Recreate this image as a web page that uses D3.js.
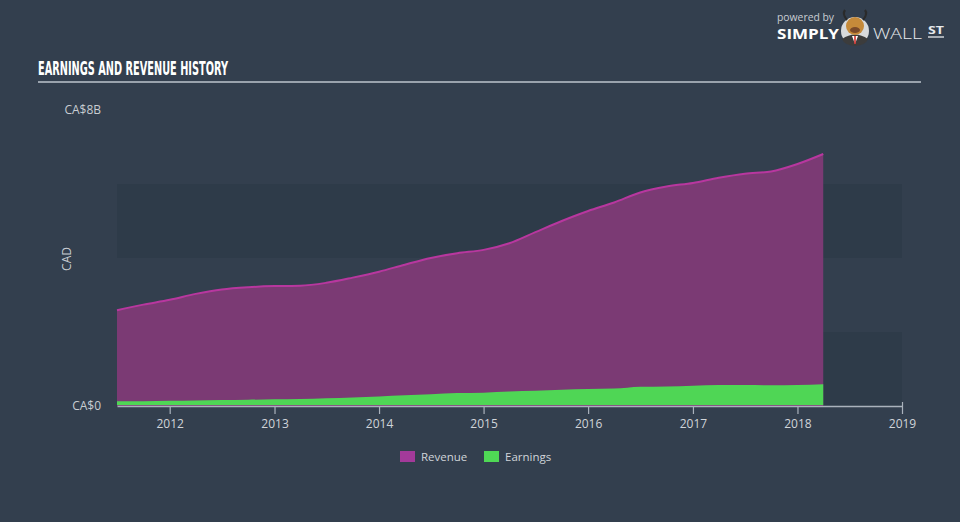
<!DOCTYPE html>
<html><head><meta charset="utf-8">
<script src="https://cdn.jsdelivr.net/npm/d3@7"></script>
<style>
html,body{margin:0;padding:0;background:#333f4e;}
svg{display:block;}
</style></head>
<body>
<svg id="c" width="960" height="522"></svg>
<script>
const dates = ["2011-07","2011-10","2012-01","2012-04","2012-07","2012-10","2013-01","2013-04","2013-07","2013-10",
"2014-01","2014-04","2014-07","2014-10","2015-01","2015-04","2015-07","2015-10","2016-01","2016-04","2016-07","2016-10",
"2017-01","2017-04","2017-07","2017-10","2018-01","2018-04"];
const revenue = [2.59,2.74,2.87,3.03,3.15,3.21,3.24,3.25,3.33,3.47,3.63,3.82,4.00,4.13,4.22,4.40,4.70,5.00,5.27,5.50,5.77,5.93,6.03,6.17,6.28,6.34,6.54,6.81];
const earnings = [0.13,0.13,0.14,0.15,0.16,0.17,0.18,0.19,0.21,0.23,0.26,0.29,0.32,0.35,0.36,0.39,0.41,0.44,0.46,0.47,0.52,0.53,0.55,0.57,0.57,0.56,0.57,0.59];
const xTickYears = ["2012","2013","2014","2015","2016","2017","2018","2019"];
const yTickLabels = [{v:0,t:"CA$0"},{v:8,t:"CA$8B"}];
const legendItems = [{name:"Revenue",color:"#a33a9a"},{name:"Earnings",color:"#4fd855"}];

const parse = d3.timeParse("%Y-%m");
const pyear = d3.timeParse("%Y");
const data = dates.map((d,i)=>({date:parse(d),rev:revenue[i],earn:earnings[i]}));

const svg = d3.select("#c");
const font = "'Open Sans', sans-serif";
const x = d3.scaleTime().domain([parse("2011-07"), pyear("2019")]).range([117, 902]);
const y = d3.scaleLinear().domain([0, 8]).range([406, 110]);

// title
svg.append("text").attr("x",38).attr("y",75).text("EARNINGS AND REVENUE HISTORY")
  .attr("fill","#ffffff").attr("font-family","'Liberation Sans Narrow','DejaVu Sans Condensed',sans-serif")
  .attr("font-weight","bold").attr("font-size",20).attr("textLength",190).attr("lengthAdjust","spacingAndGlyphs");
svg.append("line").attr("x1",38).attr("x2",921).attr("y1",82).attr("y2",82).attr("stroke","#9aa3ad").attr("stroke-width",2);

// bands
[[0,2],[4,6]].forEach(b=>{
  svg.append("rect").attr("x",x.range()[0]).attr("width",x.range()[1]-x.range()[0])
    .attr("y",y(b[1])).attr("height",y(b[0])-y(b[1])).attr("fill","#2e3b49");
});

// areas
const areaRev = d3.area().x(d=>x(d.date)).y0(y(0)).y1(d=>y(d.rev)).curve(d3.curveMonotoneX);
const lineRev = d3.line().x(d=>x(d.date)).y(d=>y(d.rev)).curve(d3.curveMonotoneX);
const areaEarn = d3.area().x(d=>x(d.date)).y0(y(0)-1).y1(d=>y(d.earn)).curve(d3.curveMonotoneX);
svg.append("path").datum(data).attr("d",areaRev).attr("fill","#7b3a74");
svg.append("path").datum(data).attr("d",lineRev).attr("fill","none").attr("stroke","#b8379f").attr("stroke-width",2);
svg.append("path").datum(data).attr("d",areaEarn).attr("fill","#4fd655");

// x axis
const xAxis = d3.axisBottom(x).tickValues(xTickYears.map(pyear)).tickFormat(d3.timeFormat("%Y")).tickSize(8).tickSizeOuter(0);
const gx = svg.append("g").attr("transform","translate(0,406)").call(xAxis);
gx.select(".domain").attr("stroke","#aab2bc").attr("stroke-width",1.5);
gx.selectAll(".tick line").attr("stroke","#aab2bc").attr("stroke-width",1.2).attr("y1",0).attr("y2",8);
gx.selectAll(".tick text").attr("fill","#d0d4d9").attr("font-family",font).attr("font-size",12).attr("dy","0.9em");
gx.select(".tick:last-child line").attr("y1",-4);

// y labels
svg.selectAll(".ylab").data(yTickLabels).enter().append("text")
  .attr("x",101).attr("y",d=>y(d.v)).attr("dy","0.35em").attr("text-anchor","end")
  .attr("fill","#c8cdd2").attr("font-family",font).attr("font-size",12).text(d=>d.t);
svg.append("text").attr("transform","translate(71,259) rotate(-90)").attr("text-anchor","middle")
  .attr("fill","#c8cdd2").attr("font-family",font).attr("font-size",12).text("CAD");

// legend
const lg = svg.append("g").attr("transform","translate(400,451)");
const li = lg.selectAll("g").data(legendItems).enter().append("g").attr("transform",(d,i)=>`translate(${i*84},0)`);
li.append("rect").attr("width",15).attr("height",11).attr("fill",d=>d.color);
li.append("text").attr("x",21).attr("y",6).attr("dy","0.35em").attr("fill","#d0d4d9")
  .attr("font-family",font).attr("font-size",11.5).text(d=>d.name);

// logo
const logo = svg.append("g");
logo.append("text").attr("x",777).attr("y",21).text("powered by").attr("fill","#c9ced4").attr("font-family",font).attr("font-size",10).attr("textLength",57).attr("lengthAdjust","spacingAndGlyphs");
logo.append("text").attr("x",777).attr("y",38.5).text("SIMPLY").attr("fill","#ffffff").attr("font-family",font).attr("font-weight","bold").attr("font-size",15).attr("textLength",62).attr("lengthAdjust","spacingAndGlyphs");
logo.append("circle").attr("cx",855).attr("cy",31).attr("r",14).attr("fill","#d8dadc");
logo.append("path").attr("d","M842,39 Q855,30 868,39 Q866,45 855,46 Q844,45 842,39 Z").attr("fill","#3c3c3c");
logo.append("path").attr("d","M852,36 L855,44 L858,36 Z").attr("fill","#ffffff");
logo.append("rect").attr("x",854.2).attr("y",36).attr("width",1.6).attr("height",8).attr("fill","#d0312d");
logo.append("ellipse").attr("cx",855).attr("cy",26).attr("rx",9).attr("ry",9).attr("fill","#c58a3a");
logo.append("path").attr("d","M847,20 Q842,14 845,10 M863,20 Q868,14 865,10").attr("stroke","#2a2a2a").attr("stroke-width",2.2).attr("fill","none");
logo.append("ellipse").attr("cx",855).attr("cy",30).attr("rx",5).attr("ry",3).attr("fill","#7a4a2a");
logo.append("text").attr("x",873).attr("y",38.5).text("WALL").attr("fill","#e6e9ec").attr("font-family",font).attr("font-weight","300").attr("font-size",15).attr("textLength",49).attr("lengthAdjust","spacingAndGlyphs");
logo.append("text").attr("x",928).attr("y",34).text("ST").attr("fill","#e6e9ec").attr("font-family",font).attr("font-weight","bold").attr("font-size",10).attr("textLength",16).attr("lengthAdjust","spacingAndGlyphs");
logo.append("line").attr("x1",928).attr("x2",944).attr("y1",37).attr("y2",37).attr("stroke","#e6e9ec").attr("stroke-width",1.3);
</script>
</body></html>
